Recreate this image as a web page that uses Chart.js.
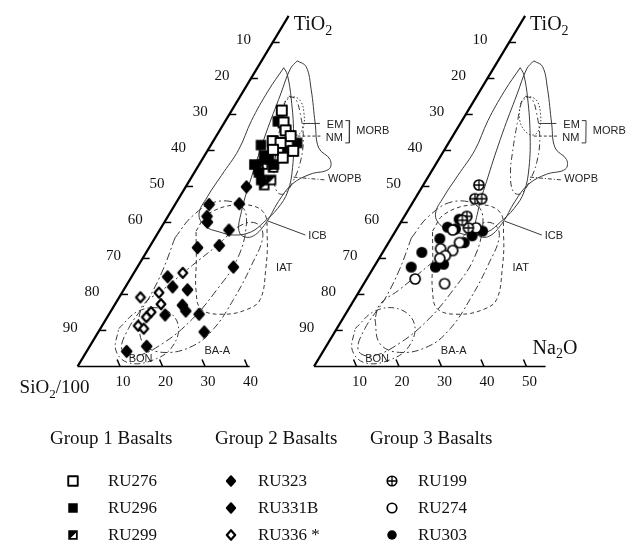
<!DOCTYPE html>
<html>
<head>
<meta charset="utf-8">
<script src="https://cdn.jsdelivr.net/npm/chart.js@4/dist/chart.umd.min.js"></script>
<style>
  html, body { margin: 0; padding: 0; background: #fff; }
  #wrap { position: relative; width: 634px; height: 547px; overflow: hidden; }
  #tern { position: absolute; left: 0; top: 0; }
  .serif { position: absolute; font-family: "Liberation Serif", "Times New Roman", serif; color: #111; white-space: nowrap; }
  .head { font-size: 19px; top: 427px; }
  .row { font-size: 17px; }
  .mk { position: absolute; }
</style>
</head>
<body>
<div id="wrap">
  <canvas id="tern" width="634" height="547"></canvas>
  <div id="legend"></div>
</div>
<script>
// ---- values: [Na2O, TiO2] ----
// Group 1 basalts (left triangle)
const RU276 = [[11.8,71.1],[13.9,67.8],[15.5,65.6],[17.5,64.0],[14.0,62.6],[16.1,62.1],[20.2,59.9],[18.7,58.0],[15.3,60.2]];
const RU296 = [[12.4,68.1],[11.8,61.5],[20.0,62.1],[13.0,56.1],[14.0,58.6],[17.6,56.1],[16.8,51.8],[15.7,57.5],[18.8,59.9],[15.2,53.9]];
const RU299 = [[15.0,56.1],[17.8,55.3],[18.2,50.4],[14.6,54.8],[19.1,51.8]];
// Group 2 basalts (left triangle)
const RU323 = [[14.3,49.9],[15.0,45.2],[8.0,45.0],[9.2,41.7],[10.1,40.1],[16.3,37.9],[11.4,33.0],[16.2,33.6],[22.6,27.6]];
const RU331B = [[8.5,24.9],[11.1,22.1],[15.0,21.3],[16.0,17.0],[17.6,15.4],[13.3,14.3],[21.2,14.5],[24.9,9.6],[9.4,4.2],[13.4,5.6]];
const RU336 = [[11.5,26.0],[8.7,20.5],[5.0,19.2],[10.8,17.3],[9.6,15.1],[9.2,13.7],[8.5,11.3],[10.2,10.5]];
// Group 3 basalts (right triangle)
const RU199 = [[13.1,50.4],[14.1,46.6],[15.7,46.6],[14.7,41.7],[16.7,38.5],[14.2,40.6]];
const RU274 = [[13.3,37.9],[18.5,38.5],[16.7,34.4],[16.2,32.2],[13.1,32.7],[15.2,30.8],[14.3,30.0],[11.4,24.3],[19.0,23.0]];
const RU303 = [[13.3,40.9],[11.7,38.7],[11.5,35.5],[9.2,31.7],[14.5,27.6],[16.0,28.4],[8.8,27.6],[17.8,34.4],[20.5,37.6],[18.7,36.3],[13.8,38.2]];

// tectonic fields (same outlines in both triangles)
const FIELD_WOPB = [[8.4,84.9],[11.3,83.3],[15.7,77.0],[21.5,67.5],[25.8,60.7],[30.1,57.5],[31.2,54.8],[27.5,53.4],[24.7,50.7],[23.9,45.8],[24.0,39.8],[22.5,36.0],[19.2,37.1],[16.6,43.1],[14.1,52.6],[11.3,64.8],[9.2,75.7],[7.9,82.7]];
const FIELD_ICB = [[6.2,83.0],[5.8,76.5],[6.1,68.3],[7.2,60.2],[6.8,53.1],[6.5,47.1],[7.0,42.3],[10.1,39.0],[14.2,37.4],[18.3,36.5],[21.8,37.4],[23.4,40.1],[24.7,43.9],[24.7,48.5],[22.4,55.3],[17.8,64.8],[12.4,74.3],[8.0,81.1]];
const FIELD_EM = [[11.2,73.5],[12.4,74.9],[14.8,73.8],[17.5,70.2],[19.3,66.2],[18.9,64.3],[16.3,65.4],[13.2,68.9]];
const FIELD_NM = [[11.4,75.1],[13.4,74.3],[16.6,70.2],[20.8,63.4],[23.5,56.7],[24.5,51.2],[24.2,48.0],[22.2,48.5],[19.0,53.4],[15.9,60.7],[13.4,67.5],[11.5,73.0]];
const FIELD_IAT = [[8.7,37.6],[9.1,42.3],[14.7,44.9],[21.6,43.1],[26.1,36.3],[30.6,26.8],[33.5,18.6],[31.9,15.9],[27.0,14.5],[21.0,15.9],[17.0,21.3],[12.9,29.5]];
const FIELD_BAA = [[7.6,13.2],[12.2,6.4],[18.1,3.9],[24.1,5.6],[26.7,10.5],[27.2,18.6],[26.6,28.1],[25.1,36.3],[21.7,39.8],[18.2,39.0],[15.7,33.6],[12.7,28.1],[9.2,21.3],[6.7,17.3]];
const FIELD_BON = [[4.3,10.5],[6.5,15.4],[12.0,15.9],[17.6,11.8],[19.5,5.6],[16.9,1.8],[11.5,1.0],[6.7,4.5]];
const FIELD_ARC = [[4.7,35.7],[5.7,41.7],[9.4,45.8],[16.0,44.4],[19.8,39.0],[22.4,29.5],[21.9,21.3],[20.3,13.2],[16.8,6.4],[12.1,2.9],[8.1,4.5],[6.6,10.5],[7.1,18.6],[6.4,26.8]];

// leader lines and the MORB bracket
const LEADER_EM = [[18.5,67.5],[22.6,67.5]];
const LEADER_NM = [[19.1,64.0],[24.9,64.0]];
const LEADER_WOPB = [[24.0,52.6],[32.0,51.8]];
const LEADER_ICB = [[24.2,40.4],[35.0,36.5]];
const BRACKET_MORB = [[28.2,68.3],[29.2,68.3],[32.3,62.1],[31.3,62.1]];

const FIELD_LABELS = [
  { text: "EM", at: [24.5,67.0] }, { text: "NM", at: [26.1,63.4] },
  { text: "MORB", at: [32.3,65.3] }, { text: "WOPB", at: [32.4,52.0] },
  { text: "ICB", at: [35.8,36.3] }, { text: "IAT", at: [32.8,27.3] },
  { text: "BA-A", at: [27.7,4.2] }, { text: "BON", at: [11.0,2.0] }
];

const EDGE_TICKS = [10,20,30,40,50,60,70,80,90];
const BASE_TICKS_LEFT = [10,20,30,40];
const BASE_TICKS_RIGHT = [10,20,30,40,50];

// ---- projection ----
const SKEW = 0.51;          // x shift per TiO2 unit
const RIGHT_OFFSET = 55.66; // second triangle
const EDGE_TOP = 97.4;

function toXY(p, off) {
  return { x: p[0] + SKEW * p[1] + off, y: p[1] };
}

function makeMarker(kind, s) {
  const c = document.createElement("canvas");
  const n = Math.ceil(s + 4);
  c.width = n; c.height = n;
  const g = c.getContext("2d");
  const m = n / 2, h = s / 2;
  g.strokeStyle = "#000"; g.fillStyle = "#000"; g.lineWidth = 1.9;
  g.lineJoin = "round";
  if (kind.startsWith("sq")) {
    g.beginPath(); g.rect(m - h, m - h, s, s);
    if (kind === "sqOpen") { g.fillStyle = "#fff"; g.fill(); g.stroke(); }
    else { g.fill(); }
    if (kind === "sqHalf") {
      g.fillStyle = "#fff";
      g.beginPath();
      g.moveTo(m + h - 1.8, m - h + 2.4);
      g.lineTo(m + h - 1.8, m + h - 1.8);
      g.lineTo(m - h + 2.4, m + h - 1.8);
      g.closePath(); g.fill();
    }
  } else if (kind.startsWith("dm")) {
    g.beginPath();
    g.moveTo(m, m - h); g.lineTo(m + h * 0.88, m); g.lineTo(m, m + h); g.lineTo(m - h * 0.88, m);
    g.closePath();
    if (kind === "dmOpen") { g.fillStyle = "#fff"; g.fill(); g.lineWidth = 2.2; g.stroke(); }
    else { g.fill(); g.stroke(); }
  } else {
    g.beginPath(); g.arc(m, m, h, 0, Math.PI * 2);
    if (kind === "cFill") { g.fill(); }
    else { g.fillStyle = "#fff"; g.fill(); g.lineWidth = 1.7; g.stroke(); }
    if (kind === "cPlus") {
      g.lineWidth = 1.3;
      g.beginPath();
      g.moveTo(m - h, m); g.lineTo(m + h, m);
      g.moveTo(m, m - h); g.lineTo(m, m + h);
      g.stroke();
    }
  }
  return c;
}

const SERIES = [
  { name: "RU276", data: RU276, kind: "sqOpen", size: 10, off: 0 },
  { name: "RU296", data: RU296, kind: "sqFill", size: 10.5, off: 0 },
  { name: "RU299", data: RU299, kind: "sqHalf", size: 10.5, off: 0 },
  { name: "RU323", data: RU323, kind: "dmFill", size: 11, off: 0 },
  { name: "RU331B", data: RU331B, kind: "dmFill", size: 11, off: 0 },
  { name: "RU336", data: RU336, kind: "dmOpen", size: 10, off: 0 },
  { name: "RU199", data: RU199, kind: "cPlus", size: 10, off: RIGHT_OFFSET },
  { name: "RU274", data: RU274, kind: "cOpen", size: 10, off: RIGHT_OFFSET },
  { name: "RU303", data: RU303, kind: "cFill", size: 11, off: RIGHT_OFFSET }
];

const DOT = [1.5, 2];
const DASH = [4, 3];
const DASHDOT = [6, 3, 1.5, 3];

function ring(a) { return a.concat([a[0]]); }

function lineSet(pts, off, dash, width, tension) {
  return {
    data: pts.map(p => toXY(p, off)),
    showLine: true,
    borderColor: "#3a3a3a",
    borderWidth: width || 1,
    borderDash: dash || [],
    pointRadius: 0,
    tension: tension === undefined ? 0.4 : tension,
    fill: false,
    order: 2
  };
}

const datasets = [];
[0, RIGHT_OFFSET].forEach(off => {
  datasets.push(lineSet(ring(FIELD_WOPB), off));
  datasets.push(lineSet(ring(FIELD_ICB), off));
  datasets.push(lineSet(ring(FIELD_EM), off, DOT));
  datasets.push(lineSet(ring(FIELD_NM), off, DASHDOT));
  datasets.push(lineSet(ring(FIELD_IAT), off, DASH));
  datasets.push(lineSet(ring(FIELD_BAA), off, [7, 3, 2, 3]));
  datasets.push(lineSet(ring(FIELD_BON), off, DASHDOT));
  datasets.push(lineSet(ring(FIELD_ARC), off, [8, 3, 2, 3]));
  datasets.push(lineSet(LEADER_EM, off, [], 1, 0));
  datasets.push(lineSet(LEADER_NM, off, [3, 2], 1, 0));
  datasets.push(lineSet(LEADER_WOPB, off, [4, 2, 1, 2], 1, 0));
  datasets.push(lineSet(LEADER_ICB, off, [], 1, 0));
  datasets.push(lineSet(BRACKET_MORB, off, [], 1, 0));
});
SERIES.forEach(s => {
  datasets.push({
    label: s.name,
    data: s.data.map(p => toXY(p, s.off)),
    pointStyle: makeMarker(s.kind, s.size),
    pointRadius: 5,
    showLine: false,
    order: 0
  });
});

const SERIF = '"Liberation Serif", "Times New Roman", serif';
const SANS = '"Liberation Sans", Arial, sans-serif';

function chem(ctx, parts, x, y, size) {
  let cx = x;
  parts.forEach(p => {
    const sub = typeof p === "object";
    const s = sub ? p.sub : p;
    ctx.font = (sub ? Math.round(size * 0.68) : size) + "px " + SERIF;
    ctx.fillText(s, cx, y + (sub ? size * 0.3 : 0));
    cx += ctx.measureText(s).width;
  });
}

const ternaryFrame = {
  id: "ternaryFrame",
  beforeDatasetsDraw(chart) {
    const ctx = chart.ctx;
    const xs = chart.scales.x, ys = chart.scales.y;
    const P = (n, t, off) => [xs.getPixelForValue(n + SKEW * t + off), ys.getPixelForValue(t)];
    ctx.save();
    ctx.strokeStyle = "#000";
    [[0, 40.5, BASE_TICKS_LEFT], [RIGHT_OFFSET, 54.5, BASE_TICKS_RIGHT]].forEach(([off, end, ticks]) => {
      const c0 = P(0, 0, off), top = P(0, EDGE_TOP, off), b1 = P(end, 0, off);
      ctx.lineWidth = 2.2;
      ctx.beginPath(); ctx.moveTo(c0[0], c0[1]); ctx.lineTo(top[0], top[1]); ctx.stroke();
      ctx.lineWidth = 1.6;
      ctx.beginPath(); ctx.moveTo(c0[0], c0[1]); ctx.lineTo(b1[0], b1[1]); ctx.stroke();
      ctx.lineWidth = 1.5;
      EDGE_TICKS.forEach(v => {
        const p = P(0, 100 - v, off);
        ctx.beginPath(); ctx.moveTo(p[0], p[1]); ctx.lineTo(p[0] + 7, p[1]); ctx.stroke();
      });
      ticks.forEach(v => {
        const p = P(v, 0, off);
        ctx.beginPath(); ctx.moveTo(p[0], p[1]); ctx.lineTo(p[0] - 3, p[1] - 7); ctx.stroke();
      });
    });
    ctx.restore();
  },
  afterDatasetsDraw(chart) {
    const ctx = chart.ctx;
    const xs = chart.scales.x, ys = chart.scales.y;
    const P = (n, t, off) => [xs.getPixelForValue(n + SKEW * t + off), ys.getPixelForValue(t)];
    ctx.save();
    ctx.fillStyle = "#111";
    ctx.textBaseline = "middle";
    [[0, BASE_TICKS_LEFT], [RIGHT_OFFSET, BASE_TICKS_RIGHT]].forEach(([off, ticks]) => {
      ctx.font = "15px " + SERIF;
      ctx.textAlign = "center";
      EDGE_TICKS.forEach(v => {
        const p = P(0, 100 - v, off);
        ctx.fillText(String(v), p[0] - 29, p[1] - 2);
      });
      ticks.forEach(v => {
        const p = P(v, 0, off);
        ctx.fillText(String(v), p[0] + 3, p[1] + 16);
      });
      ctx.textAlign = "left";
      const top = P(0, EDGE_TOP, off);
      chem(ctx, ["TiO", { sub: "2" }], top[0] + 5, top[1] + 9, 20);
      ctx.font = "11px " + SANS;
      ctx.fillStyle = "#222";
      FIELD_LABELS.forEach(l => {
        const p = P(l.at[0], l.at[1], off);
        ctx.fillText(l.text, p[0], p[1]);
      });
      ctx.fillStyle = "#111";
    });
    const c0 = P(0, 0, 0);
    chem(ctx, ["SiO", { sub: "2" }, "/100"], c0[0] - 58, c0[1] + 22, 19);
    const e1 = P(54.5, 0, RIGHT_OFFSET);
    chem(ctx, ["Na", { sub: "2" }, "O"], e1[0] - 13, e1[1] - 18, 20);
    ctx.restore();
  }
};

new Chart(document.getElementById("tern"), {
  type: "scatter",
  data: { datasets },
  options: {
    responsive: false,
    animation: false,
    events: [],
    layout: { padding: 0 },
    scales: {
      x: { type: "linear", display: false, min: -16.86, max: 129.56 },
      y: { type: "linear", display: false, min: -48.50, max: 100.14 }
    },
    plugins: { legend: { display: false }, tooltip: { enabled: false } }
  },
  plugins: [ternaryFrame]
});

// ---- legend ----
const legend = document.getElementById("legend");
const GROUPS = [
  { title: "Group 1 Basalts", left: 50, mark: 73, text: 108, items: ["RU276", "RU296", "RU299"] },
  { title: "Group 2 Basalts", left: 215, mark: 231, text: 258, items: ["RU323", "RU331B", "RU336"] },
  { title: "Group 3 Basalts", left: 370, mark: 392, text: 418, items: ["RU199", "RU274", "RU303"] }
];
const ROW_Y = [481, 508, 535];
GROUPS.forEach(g => {
  const h = document.createElement("div");
  h.className = "serif head";
  h.style.left = g.left + "px";
  h.textContent = g.title;
  legend.appendChild(h);
  g.items.forEach((name, i) => {
    const s = SERIES.find(d => d.name === name);
    const mk = makeMarker(s.kind, 9.5);
    mk.className = "mk";
    mk.style.left = (g.mark - mk.width / 2) + "px";
    mk.style.top = (ROW_Y[i] - mk.height / 2) + "px";
    legend.appendChild(mk);
    const t = document.createElement("div");
    t.className = "serif row";
    t.style.left = g.text + "px";
    t.style.top = (ROW_Y[i] - 10) + "px";
    t.style.lineHeight = "20px";
    t.textContent = name === "RU336" ? "RU336 *" : name;
    legend.appendChild(t);
  });
});
</script>
</body>
</html>
